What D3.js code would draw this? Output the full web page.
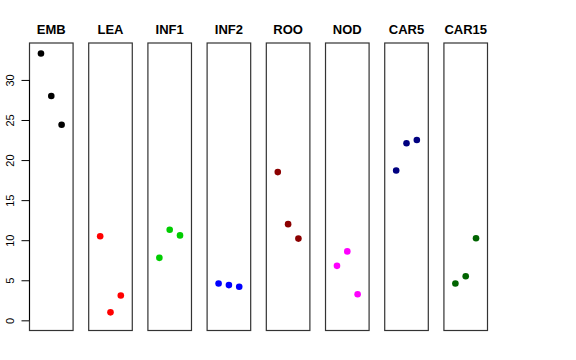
<!DOCTYPE html>
<html lang="en">

<head>
    <meta charset="UTF-8">
    <script src='https://cdnjs.cloudflare.com/ajax/libs/d3/7.8.5/d3.min.js'></script>
    <title>Panels</title>
    <style>
        body { margin: 0; background: #fff; }
        text { font-family: "Liberation Sans", Arial, sans-serif; }
    </style>
</head>

<body>
    <div id='plot'></div>
</body>

<script>
    // data: three replicate values per group
    var groups = ["EMB", "LEA", "INF1", "INF2", "ROO", "NOD", "CAR5", "CAR15"];
    var colors = ["#000000", "#FF0000", "#00CD00", "#0000FF", "#8B0000", "#FF00FF", "#000080", "#006400"];
    var rep1 = [33.3, 10.5, 7.8, 4.6, 18.5, 6.8, 18.7, 4.6];
    var rep2 = [28.0, 1.0, 11.3, 4.4, 12.0, 8.6, 22.1, 5.5];
    var rep3 = [24.4, 3.1, 10.6, 4.2, 10.2, 3.25, 22.5, 10.25];
    var yTicks = [0, 5, 10, 15, 20, 25, 30];

    var width = 576, height = 360;

    var svg = d3.select("#plot")
        .append("svg")
        .attr("width", width)
        .attr("height", height);

    // panels
    var band = d3.scaleBand()
        .domain(groups)
        .range([29, 488])
        .paddingInner(0.247)
        .paddingOuter(0);

    // ylim c(0, max) with the 4% stretch R adds
    var y = d3.scaleLinear()
        .domain([-1.33, 34.67])
        .range([331, 42.5]);

    var x = d3.scaleLinear()
        .domain([-0.16, 4.16])
        .range([0, band.bandwidth()]);

    var points = [];
    groups.forEach(function (g, i) {
        [rep1[i], rep2[i], rep3[i]].forEach(function (v, j) {
            points.push({ group: g, idx: j + 1, value: v, color: colors[i] });
        });
    });

    var panel = svg.selectAll("g.panel")
        .data(groups)
        .enter()
        .append("g")
        .attr("class", "panel")
        .attr("transform", d => "translate(" + band(d) + ",0)");

    panel.append("rect")
        .attr("x", 0.5)
        .attr("y", y.range()[1] + 0.5)
        .attr("width", band.bandwidth() - 1)
        .attr("height", y.range()[0] - y.range()[1] - 1)
        .attr("fill", "none")
        .attr("stroke", "#333")
        .attr("stroke-width", 1.2);

    panel.append("text")
        .attr("x", band.bandwidth() / 2)
        .attr("y", 34)
        .attr("text-anchor", "middle")
        .style("font-size", "13px")
        .style("font-weight", "bold")
        .text(d => d);

    panel.selectAll("circle")
        .data(d => points.filter(p => p.group === d))
        .enter()
        .append("circle")
        .attr("cx", d => x(d.idx))
        .attr("cy", d => y(d.value))
        .attr("r", 3.3)
        .style("fill", d => d.color);

    // y axis on the first panel
    var yAxis = svg.append("g")
        .attr("transform", "translate(" + band(groups[0]) + ",0)")
        .call(d3.axisLeft(y).tickValues(yTicks).tickSize(7.5).tickFormat(d3.format("d")));
    yAxis.select(".domain").remove();
    yAxis.append("line")
        .attr("x1", 0.5).attr("x2", 0.5)
        .attr("y1", y(0)).attr("y2", y(30))
        .attr("stroke", "#000");
    yAxis.selectAll(".tick line").attr("stroke", "#000");
    yAxis.selectAll(".tick text")
        .attr("transform", "rotate(-90)")
        .attr("x", 0)
        .attr("y", -15.5)
        .attr("dy", 0)
        .attr("text-anchor", "middle")
        .attr("fill", "#000")
        .style("font-size", "11px")
        .style("font-family", "'Liberation Sans', Arial, sans-serif");
</script>

</html>
